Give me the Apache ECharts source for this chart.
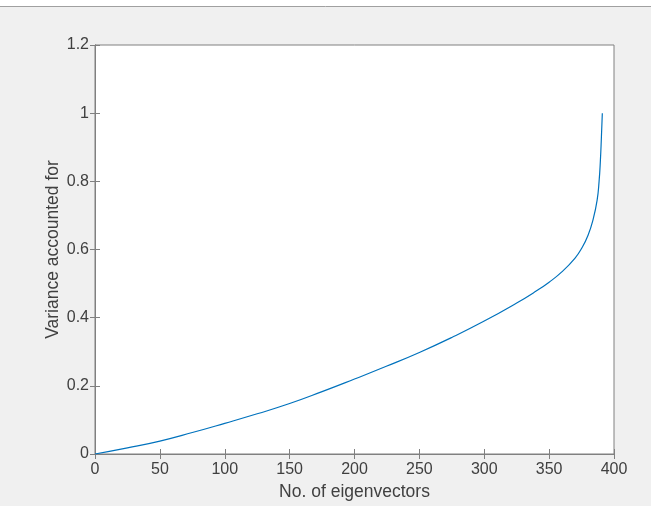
<!DOCTYPE html>
<html>
<head>
<meta charset="utf-8">
<script src="https://cdn.jsdelivr.net/npm/echarts@6/dist/echarts.min.js"></script>
<style>
  html, body { margin: 0; padding: 0; background: #f0f0f0; }
  #main { width: 651px; height: 506px; }
</style>
</head>
<body>
<div id="main"></div>
<script>
// values
var eigenCounts = [0, 25, 50, 75, 100, 125, 150, 175, 200, 225, 250, 275, 300, 325, 340, 350, 360, 370, 375, 380, 384, 387, 388.5, 389.5, 390.3, 391];
var varianceAccounted = [0, 0.018, 0.038, 0.063, 0.09, 0.118, 0.148, 0.183, 0.22, 0.258, 0.298, 0.342, 0.39, 0.443, 0.478, 0.504, 0.535, 0.575, 0.603, 0.642, 0.69, 0.745, 0.8, 0.86, 0.93, 1.0];
var xTicks = [0, 400, 50];
var yTicks = [0, 1.2, 0.2];

var axisGray = '#808080';
var labelColor = '#404040';
var font = 'Liberation Sans, Arial, sans-serif';

var points = eigenCounts.map(function (x, i) { return [x, varianceAccounted[i]]; });

var myChart = echarts.init(document.getElementById('main'));
myChart.setOption({
    backgroundColor: '#f0f0f0',
    animation: false,
    graphic: [
        { type: 'rect', shape: { x: 0, y: 0, width: 651, height: 6 }, style: { fill: '#ffffff' } },
        { type: 'line', shape: { x1: 0, y1: 6.5, x2: 651, y2: 6.5 }, style: { stroke: '#a0a0a0', lineWidth: 1 } }
    ],
    grid: {
        left: 95,
        right: 37,
        top: 45,
        bottom: 52,
        show: true,
        backgroundColor: '#ffffff',
        borderColor: axisGray,
        borderWidth: 1
    },
    xAxis: [
        {
            type: 'value',
            min: xTicks[0],
            max: xTicks[1],
            interval: xTicks[2],
            name: 'No. of eigenvectors',
            nameLocation: 'middle',
            nameGap: 29,
            nameMoveOverlap: false,
            nameTextStyle: { color: labelColor, fontSize: 17.5, fontFamily: font },
            axisLine: { show: true, lineStyle: { color: axisGray } },
            axisTick: { show: true, inside: true, length: 5, lineStyle: { color: axisGray } },
            axisLabel: { color: labelColor, fontSize: 16, fontFamily: font, margin: 8 },
            splitLine: { show: false }
        },
        {
            type: 'value',
            position: 'top',
            min: xTicks[0],
            max: xTicks[1],
            interval: xTicks[2],
            axisLine: { show: true, lineStyle: { color: axisGray } },
            axisTick: { show: true, inside: true, length: 5, lineStyle: { color: axisGray } },
            axisLabel: { show: false },
            splitLine: { show: false }
        }
    ],
    yAxis: [
        {
            type: 'value',
            min: yTicks[0],
            max: yTicks[1],
            interval: yTicks[2],
            name: 'Variance accounted for',
            nameLocation: 'middle',
            nameGap: 33,
            nameMoveOverlap: false,
            nameTextStyle: { color: labelColor, fontSize: 17.5, fontFamily: font },
            axisLine: { show: true, lineStyle: { color: axisGray } },
            axisTick: { show: true, inside: true, length: 5, lineStyle: { color: axisGray } },
            axisLabel: {
                color: labelColor, fontSize: 16, fontFamily: font, margin: 6,
                formatter: function (v) { return String(Math.round(v * 10) / 10); }
            },
            splitLine: { show: false }
        },
        {
            type: 'value',
            position: 'right',
            min: yTicks[0],
            max: yTicks[1],
            interval: yTicks[2],
            axisLine: { show: true, lineStyle: { color: axisGray } },
            axisTick: { show: true, inside: true, length: 5, lineStyle: { color: axisGray } },
            axisLabel: { show: false },
            splitLine: { show: false }
        }
    ],
    series: [
        {
            type: 'line',
            data: points,
            showSymbol: false,
            smooth: 0.5,
            lineStyle: { color: '#0072bd', width: 1.2 }
        }
    ]
});
</script>
</body>
</html>
